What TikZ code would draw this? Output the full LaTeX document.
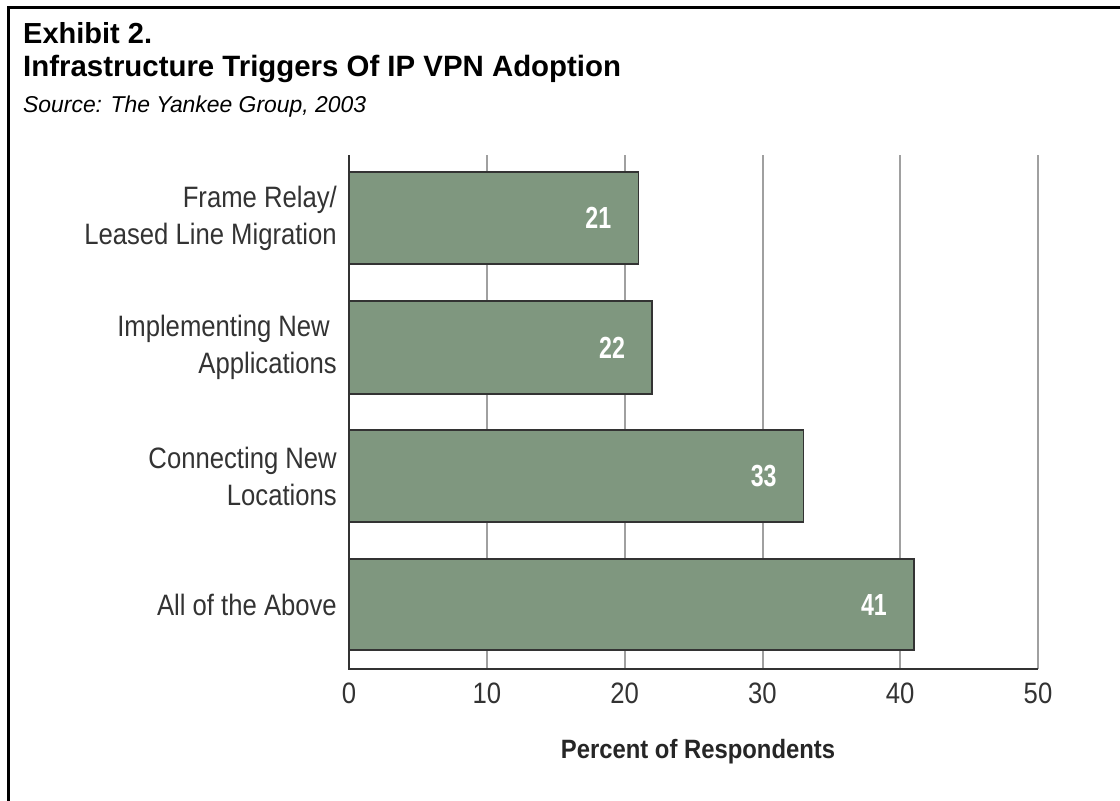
\documentclass[tikz,border=0pt]{standalone}
\usepackage{fontspec}
\setmainfont{Liberation Sans}
\newfontfamily\narrowfont[FakeStretch=0.87]{Liberation Sans}
\newfontfamily\axisfont[FakeStretch=0.9]{Liberation Sans}
\newfontfamily\valuefont[FakeStretch=0.76]{Liberation Sans}
\definecolor{barfill}{HTML}{7F977F}
\definecolor{barline}{HTML}{333333}
\definecolor{gridgray}{HTML}{A0A0A0}
\definecolor{labelgray}{HTML}{333333}
\begin{document}
\begin{tikzpicture}[x=1pt,y=-1pt,
  gridline/.style={draw=gridgray,line width=1.6pt},
  axisline/.style={draw=barline,line width=1.8pt},
  bar/.style={fill=barfill,draw=barline,line width=1.4pt},
  catlabel/.style={anchor=east,align=right,text=labelgray,inner sep=0pt,
    font=\narrowfont\fontsize{29.5}{37}\selectfont},
  vallabel/.style={anchor=east,text=white,inner sep=0pt,
    font=\valuefont\bfseries\fontsize{30.5}{32}\selectfont},
  ticklabel/.style={anchor=center,text=labelgray,inner sep=0pt,
    font=\narrowfont\fontsize{29.5}{32}\selectfont}]
\useasboundingbox (0,0) rectangle (1120,801);
\fill[white] (0,0) rectangle (1120,801);
% frame
\draw[line width=3pt,black] (8,801) -- (8,7) -- (1120,7);
% titles
\node[anchor=base west,inner sep=0pt,font=\bfseries\fontsize{29}{32}\selectfont] (exh) at (23,43) {Exhibit 2.};
\node[anchor=base west,inner sep=0pt,font=\bfseries\fontsize{29.4}{32}\selectfont] (ttl) at (23,76) {Infrastructure Triggers Of IP VPN Adoption};
\node[anchor=base west,inner sep=0pt,font=\itshape\fontsize{22.9}{25}\selectfont] (src) at (23,112) {Source: The Yankee Group, 2003};
% grid
\foreach \gx in {487,625,763,900,1038}
  \draw[gridline] (\gx,155) -- (\gx,669);
% bars
\foreach \v/\yt/\yb/\nm in {21/172/264/b1,22/301/394/b2,33/430/522/b3,41/559/650/b4}{
  \draw[bar] (349,\yt) rectangle ({349+\v*13.78},\yb);
  \node[vallabel] (\nm) at ({349+\v*13.78-27},{(\yt+\yb)/2}) {\v};
}
% axes
\draw[axisline] (349,155) -- (349,669) -- (1038,669);
% category labels
\node[catlabel] (c1) at (337,218) {Frame Relay/\\Leased Line Migration};
\node[catlabel] (c2) at (337,347.5) {Implementing New\hspace*{7pt}\\Applications};
\node[catlabel] (c3) at (337,476) {Connecting New\\Locations};
\node[catlabel] (c4) at (337,604.5) {All of the Above};
% tick labels
\foreach \t in {0,10,20,30,40,50}
  \node[ticklabel] (t\t) at ({349+\t*13.78},693) {\t};
% axis title
\node[anchor=center,inner sep=0pt,text=black!85,font=\axisfont\bfseries\fontsize{26.5}{30}\selectfont] (xt) at (698,752) {Percent of Respondents};
\end{tikzpicture}
\end{document}
